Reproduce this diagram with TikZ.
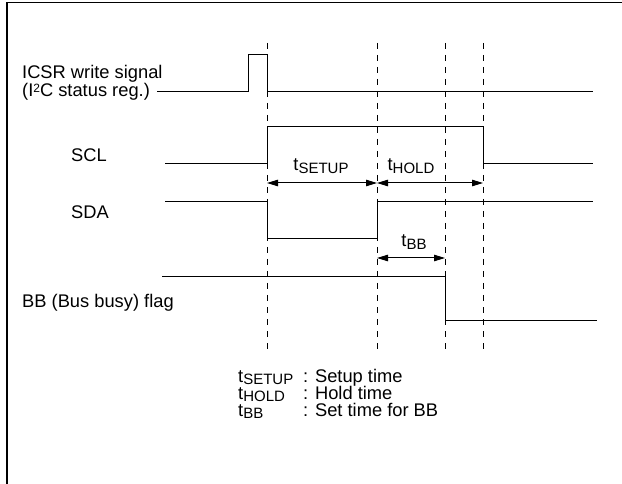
\documentclass[tikz,border=0pt]{standalone}
\usepackage{fontspec}
\setmainfont{Liberation Sans}
\usetikzlibrary{arrows.meta}
\newcommand\tsb[1]{t\raisebox{-2.5pt}{\fontsize{15}{15}\selectfont #1}}
\newcommand\supii{\raisebox{4pt}{\fontsize{12}{12}\selectfont 2}}
\begin{document}
\begin{tikzpicture}[x=1pt,y=-1pt,
  wave/.style={line width=1pt, line join=miter},
  guide/.style={line width=0.9pt, dash pattern=on 6pt off 6pt},
  dim/.style={line width=1pt, {Triangle[length=11pt,width=6.5pt]}-{Triangle[length=11pt,width=6.5pt]}},
  lbl/.style={font=\fontsize{18.3}{16}\selectfont, inner sep=0pt, anchor=base west},
  clbl/.style={font=\fontsize{18.3}{16}\selectfont, inner sep=0pt, anchor=base}
]
\useasboundingbox (0,0) rectangle (622,484);
% frame
\draw[line width=1.8pt] (7,484) -- (7,2.5) -- (622,2.5);
% guide lines
\foreach \x/\n in {267/a,377/b,445/c,483/d}{
  \coordinate (\n top) at (\x,43);
  \coordinate (\n bot) at (\x,352);
  \draw[guide] (\n top) -- (\n bot);
}
% labels
\node[lbl] (icsr1) at (22,79) {ICSR write signal};
\node[lbl] (icsr2) at (22,97) {(I\supii C status reg.)};
\node[lbl] (scl) at (71,162) {SCL};
\node[lbl] (sda) at (71,219) {SDA};
\node[lbl] (bb) at (22,307) {BB (Bus busy) flag};
% waveforms
\draw[wave] (157,92) -- (248,92) -- (248,55) -- (267,55) -- (267,92) -- (593,92);
\draw[wave] (165,164) -- (267,164) -- (267,127) -- (483,127) -- (483,164) -- (593,164);
\draw[wave] (165,202) -- (267,202) -- (267,239) -- (377,239) -- (377,202) -- (593,202);
\draw[wave] (162,277) -- (445,277) -- (445,320) -- (597,320);
% dimension arrows
\coordinate (s1) at (267,183);
\coordinate (s2) at (377,183);
\coordinate (s3) at (483,183);
\coordinate (b1) at (377,258);
\coordinate (b2) at (445,258);
\draw[dim] (s1) -- (s2);
\draw[dim] (s2) -- (s3);
\draw[dim] (b1) -- (b2);
\node[clbl] (tsetup) at (321,171) {\tsb{SETUP}};
\node[clbl] (thold) at (411,171) {\tsb{HOLD}};
\node[clbl] (tbb) at (414,247) {\tsb{BB}};
% legend
\node[lbl] (l1) at (238,382) {\tsb{SETUP}};
\node[lbl] (l2) at (238,399) {\tsb{HOLD}};
\node[lbl] (l3) at (238,416) {\tsb{BB}};
\node[lbl] (d1) at (303,382) {: Setup time};
\node[lbl] (d2) at (303,399) {: Hold time};
\node[lbl] (d3) at (303,416) {: Set time for BB};
\end{tikzpicture}
\end{document}
